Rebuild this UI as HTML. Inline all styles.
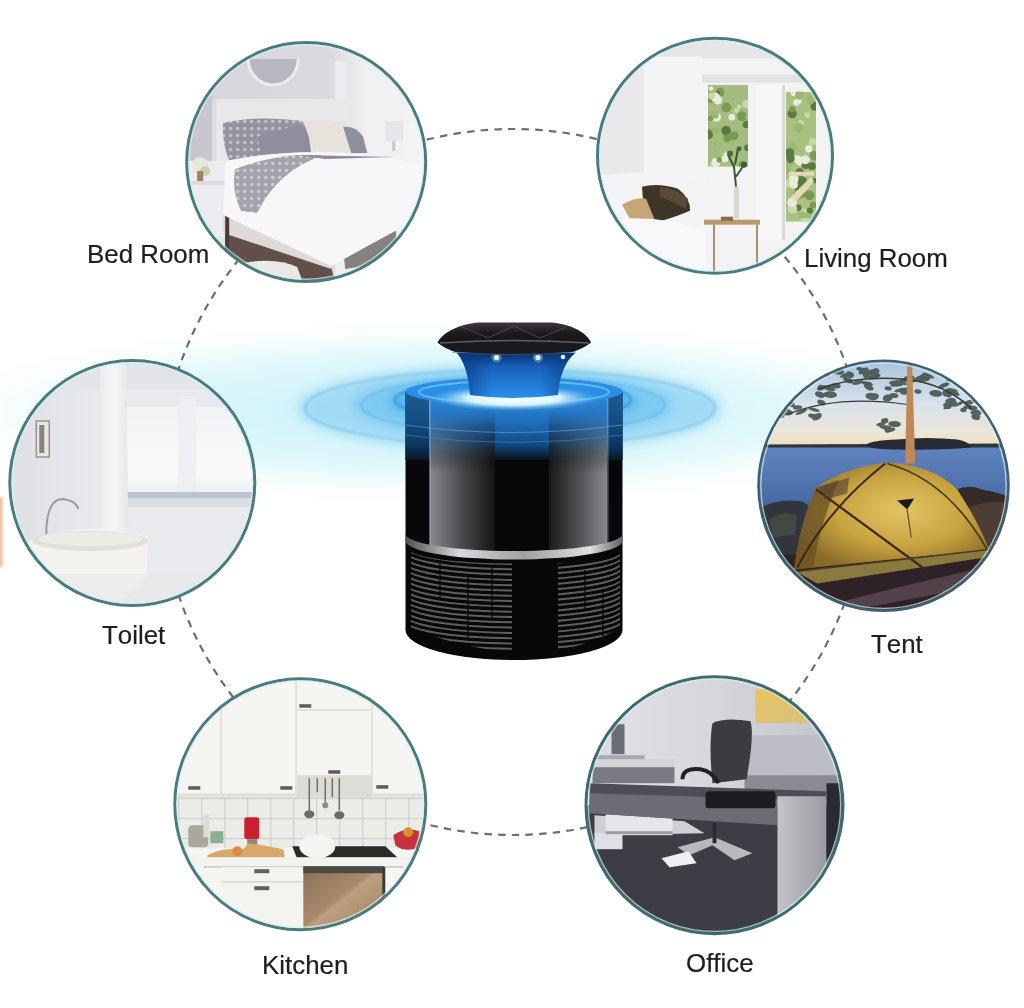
<!DOCTYPE html>
<html><head><meta charset="utf-8">
<style>
html,body{margin:0;padding:0;background:#fff;}
body{width:1024px;height:1008px;position:relative;overflow:hidden;font-family:"Liberation Sans",sans-serif;}
svg{position:absolute;left:0;top:0;}
.lbl{position:absolute;font-size:25px;color:#1e1e1e;white-space:nowrap;line-height:1;font-kerning:none;-webkit-text-stroke:0.2px #1e1e1e;transform:scaleX(1.035);transform-origin:0 0;}
</style></head><body>
<svg width="1024" height="1008" viewBox="0 0 1024 1008">
<defs>
  <radialGradient id="haze" cx="0.5" cy="0.5" r="0.5">
    <stop offset="0" stop-color="#c2f0f8"/>
    <stop offset="0.6" stop-color="#e2f8fb"/>
    <stop offset="1" stop-color="#ffffff" stop-opacity="0"/>
  </radialGradient>
  <radialGradient id="ring" cx="0.5" cy="0.5" r="0.5">
    <stop offset="0" stop-color="#5fbef0"/>
    <stop offset="0.7" stop-color="#8fd6f6"/>
    <stop offset="1" stop-color="#c8f0fa" stop-opacity="0"/>
  </radialGradient>
  <filter id="blur2"><feGaussianBlur stdDeviation="2"/></filter>
  <filter id="blur6"><feGaussianBlur stdDeviation="6"/></filter>
  <filter id="soft" x="-5%" y="-5%" width="110%" height="110%"><feGaussianBlur stdDeviation="0.7"/></filter>
  <filter id="blur1"><feGaussianBlur stdDeviation="0.8"/></filter>
  <clipPath id="cBed"><circle cx="121" cy="121" r="120"/></clipPath>
  <clipPath id="cLiv"><circle cx="119" cy="119" r="118"/></clipPath>
  <clipPath id="livWinL"><rect x="112" y="48" width="40" height="82"/></clipPath>
  <clipPath id="livWinR"><rect x="190" y="55" width="30" height="130"/></clipPath>
  <clipPath id="cToi"><circle cx="124" cy="124" r="123"/></clipPath>
  <clipPath id="cTent"><circle cx="126.3" cy="126.3" r="125.3"/></clipPath>
  <clipPath id="cKit"><circle cx="127" cy="127" r="126"/></clipPath>
  <clipPath id="cOff"><circle cx="130" cy="130" r="129"/></clipPath>
</defs>

<!-- background haze -->
<ellipse cx="450" cy="412" rx="560" ry="98" fill="url(#haze)"/>
<g filter="url(#blur6)">
<ellipse cx="510" cy="408" rx="212" ry="42" fill="#a2daf4"/>
<ellipse cx="513" cy="405" rx="160" ry="32" fill="#7ccaf2"/>
<ellipse cx="513" cy="402" rx="125" ry="24" fill="#5ab6ee"/>
</g>
<g filter="url(#blur1)" fill="none" opacity="0.75">
<ellipse cx="510" cy="408" rx="205" ry="38" stroke="#78c4ee" stroke-width="2"/>
<ellipse cx="513" cy="405" rx="152" ry="28" stroke="#62b8ec" stroke-width="2"/>
<ellipse cx="513" cy="400" rx="118" ry="21" stroke="#2a94e0" stroke-width="2.5"/>
</g>
<rect x="-2" y="497" width="5" height="70" fill="#f4c6a2" filter="url(#blur1)"/>
<!-- dashed circle -->
<circle cx="513" cy="482" r="353" fill="none" stroke="#6e6e6e" stroke-width="2.2" stroke-dasharray="7.5 6.2"/>

<!-- BED ROOM -->
<g transform="translate(185.2,41)">
 <g clip-path="url(#cBed)" filter="url(#soft)">
  <defs>
   <linearGradient id="bedWall" x1="0" y1="0" x2="1" y2="0">
    <stop offset="0" stop-color="#d6d4dc"/>
    <stop offset="0.6" stop-color="#dcdae0"/>
    <stop offset="0.75" stop-color="#f0f0f2"/>
    <stop offset="1" stop-color="#f4f4f6"/>
   </linearGradient>
   <pattern id="bedDots" width="7" height="7" patternUnits="userSpaceOnUse">
    <rect width="7" height="7" fill="#94949f"/>
    <circle cx="3.5" cy="3.5" r="1.7" fill="#c4c4ce"/>
   </pattern>
  </defs>
  <rect x="0" y="0" width="242" height="242" fill="url(#bedWall)"/>
  <rect x="150" y="20" width="12" height="100" fill="#ecebee"/>
  <path d="M63,18 A25,26 0 0 0 113,18 Z" fill="#b8b6c0"/>
  <path d="M63,18 A25,26 0 0 0 113,18" fill="none" stroke="#ecebef" stroke-width="3"/>
  <rect x="0" y="55" width="28" height="90" fill="#c8c6ce"/>
  <rect x="27" y="58" width="138" height="62" fill="#e9e7ea"/>
  <rect x="27" y="58" width="4" height="140" fill="#dedce0"/>
  <path d="M38,82 Q70,74 118,80 L122,118 L45,122 Q36,100 38,82Z" fill="url(#bedDots)"/>
  <path d="M72,96 Q98,86 122,84 L126,112 Q100,118 78,122Z" fill="#8e8e9e"/>
  <path d="M118,80 Q140,76 160,82 L166,110 Q150,114 130,114Z" fill="#e8e2dc"/>
  <path d="M158,86 Q170,84 178,96 L182,112 L166,112Z" fill="#8e909e"/>
  <rect x="200" y="80" width="18" height="20" fill="#e6e6ea"/>
  <rect x="207" y="100" width="3" height="10" fill="#c8c8cc"/>
  <rect x="0" y="120" width="42" height="80" fill="#ecebef"/>
  <rect x="0" y="140" width="42" height="4" fill="#dcdce0"/>
  <circle cx="15" cy="124" r="8" fill="#e4e8d8"/>
  <circle cx="20" cy="130" r="5" fill="#c8d0b0"/>
  <rect x="12" y="130" width="6" height="10" fill="#a08060"/>
  <rect x="0" y="196" width="42" height="46" fill="#e4e4e8"/>
  <path d="M150,200 L242,175 L242,242 L150,242Z" fill="#f0eff2"/>
  <path d="M40,190 L146,226 L150,242 L40,242Z" fill="#62504a"/>
  <path d="M38,172 L146,212 L146,228 L38,192Z" fill="#dedad8"/>
  <rect x="40" y="175" width="4" height="40" fill="#4a3c38"/>
  <path d="M58,222 Q90,216 112,226 L118,242 L58,242 Q50,232 58,222Z" fill="#ebe8e8"/>
  <path d="M156,190 L210,182 L213,220 L160,228Z" fill="#86807e"/>
  <path d="M156,190 L210,182 L211,188 L157,196Z" fill="#d8d4d0"/>
  <path d="M40,120 Q100,108 160,112 L210,118 L242,125 L242,176 L221,184 L146,225 L38,174Z" fill="#f7f7f9"/>
  <path d="M50,128 Q75,118 110,114 L138,114 Q92,130 72,172 L56,170 Q46,150 50,128Z" fill="url(#bedDots)" opacity="0.85"/>
  <path d="M112,114 L210,116 L140,118Z" fill="#8c8c9a"/>
 </g>
 <circle cx="121" cy="121" r="119.5" fill="none" stroke="#4b7b7e" stroke-width="3"/>
 <circle cx="121" cy="121" r="117.2" fill="none" stroke="#d4f2f2" stroke-width="1.4" opacity="0.7"/>
</g>

<!-- LIVING ROOM -->
<g transform="translate(596,36.7)">
 <g clip-path="url(#cLiv)" filter="url(#soft)">
  <rect x="0" y="0" width="238" height="238" fill="#f3f3f4"/>
  <rect x="0" y="0" width="238" height="22" fill="#e6e6e8"/>
  <rect x="0" y="0" width="48" height="238" fill="#e9e9eb"/>
  <rect x="48" y="20" width="58" height="120" fill="#f4f4f5"/>
  <rect x="106" y="38" width="132" height="8" fill="#e2e2e4"/>
  <g clip-path="url(#livWinL)">
   <rect x="112" y="48" width="40" height="82" fill="#a4bc80"/><circle cx="130.1" cy="93.9" r="4.8" fill="#5a7a40"/><circle cx="130.1" cy="118.1" r="2.6" fill="#e8ecd8"/><circle cx="131.0" cy="98.3" r="2.6" fill="#5a7a40"/><circle cx="124.1" cy="55.4" r="4.4" fill="#7a9a50"/><circle cx="135.8" cy="80.5" r="3.4" fill="#e8ecd8"/><circle cx="138.0" cy="99.1" r="4.5" fill="#7a9a50"/><circle cx="114.4" cy="63.6" r="2.7" fill="#7a9a50"/><circle cx="143.1" cy="74.8" r="3.8" fill="#9ab870"/><circle cx="132.8" cy="100.5" r="3.5" fill="#7a9a50"/><circle cx="130.3" cy="70.8" r="5.0" fill="#7a9a50"/><circle cx="140.3" cy="73.9" r="2.7" fill="#c8d8a8"/><circle cx="113.2" cy="94.2" r="2.3" fill="#7a9a50"/><circle cx="145.9" cy="79.7" r="4.9" fill="#7a9a50"/><circle cx="120.5" cy="124.0" r="2.2" fill="#5a7a40"/><circle cx="151.2" cy="80.6" r="2.2" fill="#9ab870"/><circle cx="143.1" cy="70.1" r="2.3" fill="#c8d8a8"/><circle cx="112.6" cy="81.6" r="4.8" fill="#9ab870"/><circle cx="121.9" cy="56.3" r="2.2" fill="#5a7a40"/><circle cx="119.1" cy="93.9" r="3.3" fill="#9ab870"/><circle cx="151.4" cy="111.1" r="3.3" fill="#5a7a40"/><circle cx="116.7" cy="82.5" r="2.6" fill="#c8d8a8"/><circle cx="146.6" cy="127.9" r="3.8" fill="#7a9a50"/><circle cx="120.4" cy="80.3" r="4.6" fill="#e8ecd8"/><circle cx="116.0" cy="129.1" r="2.6" fill="#c8d8a8"/><circle cx="112.4" cy="98.0" r="4.5" fill="#5a7a40"/><circle cx="114.9" cy="55.4" r="3.7" fill="#9ab870"/><circle cx="112.6" cy="78.2" r="3.9" fill="#9ab870"/><circle cx="150.4" cy="87.7" r="3.7" fill="#5a7a40"/><circle cx="119.3" cy="60.6" r="4.7" fill="#e8ecd8"/><circle cx="122.0" cy="63.6" r="4.2" fill="#e8ecd8"/><circle cx="119.9" cy="125.9" r="4.6" fill="#e8ecd8"/><circle cx="115.1" cy="51.9" r="2.3" fill="#e8ecd8"/><circle cx="150.5" cy="67.5" r="4.1" fill="#c8d8a8"/><circle cx="128.8" cy="122.2" r="3.5" fill="#e8ecd8"/><circle cx="119.0" cy="107.1" r="2.2" fill="#9ab870"/><circle cx="131.2" cy="101.6" r="3.8" fill="#7a9a50"/><circle cx="123.2" cy="123.2" r="2.6" fill="#7a9a50"/><circle cx="114.8" cy="81.7" r="2.7" fill="#7a9a50"/><circle cx="119.1" cy="78.2" r="3.7" fill="#9ab870"/><circle cx="115.7" cy="59.3" r="3.4" fill="#c8d8a8"/>
  </g>
  <g clip-path="url(#livWinR)">
   <rect x="190" y="55" width="30" height="130" fill="#a8c080"/><circle cx="209.7" cy="144.9" r="3.8" fill="#9ab870"/><circle cx="207.7" cy="175.1" r="3.4" fill="#c8d8a8"/><circle cx="211.0" cy="180.2" r="2.1" fill="#7a9a50"/><circle cx="204.5" cy="150.0" r="3.0" fill="#7a9a50"/><circle cx="192.3" cy="126.0" r="4.2" fill="#9ab870"/><circle cx="213.8" cy="174.0" r="3.1" fill="#5a7a40"/><circle cx="217.0" cy="168.2" r="3.3" fill="#7a9a50"/><circle cx="215.9" cy="129.5" r="3.9" fill="#5a7a40"/><circle cx="201.4" cy="56.6" r="2.2" fill="#7a9a50"/><circle cx="209.2" cy="184.1" r="4.6" fill="#c8d8a8"/><circle cx="201.7" cy="150.6" r="3.7" fill="#5a7a40"/><circle cx="203.9" cy="125.4" r="3.6" fill="#e8ecd8"/><circle cx="190.9" cy="133.2" r="3.4" fill="#9ab870"/><circle cx="218.7" cy="69.7" r="4.3" fill="#5a7a40"/><circle cx="197.7" cy="56.5" r="2.9" fill="#e8ecd8"/><circle cx="196.1" cy="77.0" r="4.7" fill="#5a7a40"/><circle cx="204.9" cy="86.4" r="3.2" fill="#c8d8a8"/><circle cx="196.0" cy="111.0" r="4.4" fill="#9ab870"/><circle cx="216.4" cy="105.0" r="3.7" fill="#c8d8a8"/><circle cx="196.3" cy="72.5" r="3.1" fill="#7a9a50"/><circle cx="211.3" cy="178.5" r="2.8" fill="#9ab870"/><circle cx="193.4" cy="116.3" r="4.8" fill="#5a7a40"/><circle cx="201.5" cy="122.6" r="4.0" fill="#e8ecd8"/><circle cx="203.6" cy="64.7" r="2.1" fill="#e8ecd8"/><circle cx="191.2" cy="147.1" r="3.7" fill="#c8d8a8"/><circle cx="209.5" cy="128.3" r="3.9" fill="#5a7a40"/><circle cx="203.6" cy="58.2" r="4.5" fill="#9ab870"/><circle cx="213.4" cy="158.6" r="5.0" fill="#7a9a50"/><circle cx="203.4" cy="136.9" r="4.0" fill="#c8d8a8"/><circle cx="218.8" cy="144.0" r="2.6" fill="#5a7a40"/><circle cx="197.7" cy="147.8" r="4.3" fill="#e8ecd8"/><circle cx="211.4" cy="78.3" r="2.8" fill="#c8d8a8"/><circle cx="206.2" cy="178.1" r="3.5" fill="#9ab870"/><circle cx="201.8" cy="158.0" r="4.7" fill="#7a9a50"/><circle cx="202.3" cy="171.0" r="3.2" fill="#5a7a40"/><circle cx="203.6" cy="136.3" r="4.7" fill="#5a7a40"/><circle cx="206.5" cy="139.8" r="3.5" fill="#c8d8a8"/><circle cx="203.9" cy="139.7" r="2.6" fill="#7a9a50"/><circle cx="196.4" cy="172.0" r="4.9" fill="#c8d8a8"/><circle cx="206.1" cy="157.8" r="3.0" fill="#7a9a50"/><circle cx="200.5" cy="65.8" r="3.3" fill="#e8ecd8"/><circle cx="202.6" cy="90.8" r="4.8" fill="#9ab870"/><circle cx="214.3" cy="63.3" r="4.4" fill="#9ab870"/><circle cx="206.0" cy="144.3" r="4.7" fill="#5a7a40"/><circle cx="194.5" cy="122.1" r="4.2" fill="#5a7a40"/><circle cx="218.4" cy="119.0" r="4.8" fill="#7a9a50"/><circle cx="212.7" cy="112.1" r="3.7" fill="#e8ecd8"/><circle cx="209.2" cy="123.0" r="4.5" fill="#e8ecd8"/><circle cx="197.7" cy="142.3" r="4.9" fill="#e8ecd8"/><circle cx="196.2" cy="165.6" r="4.9" fill="#e8ecd8"/>
  </g>
  <rect x="160" y="48" width="28" height="155" fill="#f6f6f6"/>
  <rect x="186" y="48" width="3" height="155" fill="#d8d8d8"/>
  <rect x="193" y="135" width="25" height="4" fill="#e4d8b8"/>
  <path d="M195,160 L215,140 L218,145 L200,165Z" fill="#e4d8b8"/>
  <rect x="0" y="138" width="110" height="100" fill="#f5f5f7"/>
  <path d="M0,140 Q40,132 90,138 L110,150 L110,238 L0,238Z" fill="#f4f4f6"/>
  <path d="M46,150 Q62,146 82,152 Q95,162 94,174 Q75,182 58,186 Q46,170 46,150Z" fill="#3e3428"/>
  <path d="M64,150 Q80,152 92,162 L90,172 Q78,165 64,160Z" fill="#5a4a38"/>
  <path d="M26,168 Q40,160 50,162 L60,186 Q50,190 36,186Z" fill="#c6a676"/>
  <path d="M0,185 Q60,175 110,195 L110,238 L0,238Z" fill="#f8f8fa"/>
  <rect x="108" y="183" width="56" height="5" fill="#b89a70"/>
  <rect x="117" y="188" width="2" height="50" fill="#a89078"/>
  <rect x="160" y="188" width="2" height="50" fill="#a89078"/>
  <rect x="125" y="180" width="12" height="4" fill="#8a6a48"/>
  <rect x="138" y="150" width="5" height="32" fill="#d4dad0"/>
  <path d="M140,150 L138,130 L132,118 M140,140 L148,128 M139,128 L142,112" stroke="#3a5a30" stroke-width="2" fill="none"/>
  <circle cx="134" cy="117" r="3" fill="#4a6a38"/><circle cx="148" cy="128" r="3" fill="#3a5a30"/><circle cx="143" cy="112" r="2.5" fill="#4a6a38"/>
 </g>
 <circle cx="119" cy="119" r="117.5" fill="none" stroke="#4b7b7e" stroke-width="3"/>
 <circle cx="119" cy="119" r="115.2" fill="none" stroke="#d4f2f2" stroke-width="1.4" opacity="0.7"/>
</g>

<!-- TOILET -->
<g transform="translate(8.3,359)">
 <g clip-path="url(#cToi)" filter="url(#soft)">
  <defs>
   <linearGradient id="toiWall" x1="0" y1="0" x2="1" y2="0">
    <stop offset="0" stop-color="#dfe0e6"/>
    <stop offset="0.4" stop-color="#e9eaee"/>
    <stop offset="1" stop-color="#eef0f2"/>
   </linearGradient>
   <linearGradient id="toiWin" x1="0" y1="0" x2="0" y2="1">
    <stop offset="0" stop-color="#f0f2f4"/>
    <stop offset="0.7" stop-color="#fafafa"/>
    <stop offset="1" stop-color="#e8eef2"/>
   </linearGradient>
   <linearGradient id="toiCur" x1="0" y1="0" x2="1" y2="0">
    <stop offset="0" stop-color="#ececf0"/>
    <stop offset="0.5" stop-color="#f6f6f7"/>
    <stop offset="1" stop-color="#e6e6ea"/>
   </linearGradient>
  </defs>
  <rect x="0" y="0" width="249" height="249" fill="url(#toiWall)"/>
  <rect x="0" y="0" width="249" height="30" fill="#e2e4e8"/>
  <rect x="118" y="30" width="131" height="18" fill="#e8eaee"/>
  <rect x="118" y="48" width="52" height="90" fill="url(#toiWin)"/>
  <rect x="170" y="40" width="18" height="170" fill="#eeeff2"/>
  <rect x="188" y="48" width="61" height="90" fill="url(#toiWin)"/>
  <rect x="118" y="133" width="131" height="6" fill="#b8c4d0"/>
  <rect x="118" y="139" width="131" height="9" fill="#d8dee4"/>
  <rect x="118" y="148" width="131" height="101" fill="#e9eaed"/>
  <path d="M92,0 L118,0 L120,170 Q105,175 92,170Z" fill="url(#toiCur)"/>
  <rect x="28" y="62" width="13" height="36" fill="#e8e6e2" stroke="#9a948e" stroke-width="1.5"/>
  <rect x="31" y="66" width="5" height="28" fill="#8a847e"/>
  <path d="M38,175 Q38,140 55,140 Q68,142 70,150" stroke="#9a9aa0" stroke-width="2" fill="none"/>
  <path d="M20,182 Q80,160 140,178 L138,218 Q120,249 60,249 L20,249Z" fill="#f3f2ee"/>
  <ellipse cx="82" cy="182" rx="58" ry="10" fill="#e2e0da"/>
  <ellipse cx="82" cy="180" rx="52" ry="7" fill="#ecebe6"/>
  <rect x="0" y="215" width="249" height="34" fill="#e8e8ea" opacity="0.6"/>
 </g>
 <circle cx="124" cy="124" r="122.5" fill="none" stroke="#4b7b7e" stroke-width="3"/>
 <circle cx="124" cy="124" r="120.2" fill="none" stroke="#d4f2f2" stroke-width="1.4" opacity="0.7"/>
</g>

<!-- TENT -->
<g transform="translate(757.2,359.5)">
 <g clip-path="url(#cTent)" filter="url(#soft)">
  <defs>
   <linearGradient id="sky" x1="0" y1="0" x2="0" y2="1">
    <stop offset="0" stop-color="#a6c2de"/>
    <stop offset="0.5" stop-color="#d8e2ec"/>
    <stop offset="0.82" stop-color="#ebe6da"/>
    <stop offset="1" stop-color="#f2dcb4"/>
   </linearGradient>
   <linearGradient id="water" x1="0" y1="0" x2="0" y2="1">
    <stop offset="0" stop-color="#6084c0"/>
    <stop offset="1" stop-color="#42629c"/>
   </linearGradient>
   <radialGradient id="tentG" cx="0.55" cy="0.45" r="0.6">
    <stop offset="0" stop-color="#e2c464"/>
    <stop offset="0.55" stop-color="#c8a440"/>
    <stop offset="1" stop-color="#8a6a28"/>
   </radialGradient>
  </defs>
  <rect x="0" y="0" width="253" height="88" fill="url(#sky)"/>
  <rect x="0" y="86" width="253" height="75" fill="url(#water)"/>
  <path d="M0,85 L253,84 L253,88 L0,88Z" fill="#2c3440"/>
  <path d="M108,86 Q112,81 140,80 Q170,77 200,80 Q212,82 214,88 Q180,91 140,90 Q115,90 108,86Z" fill="#262c34"/>
  <!-- canopy -->
  <g fill="#34443c" opacity="0.8"><ellipse cx="79.0" cy="26.2" rx="4.5" ry="2.7" transform="rotate(8 79.0 26.2)"/><ellipse cx="65.2" cy="11.4" rx="6.3" ry="2.0" transform="rotate(-16 65.2 11.4)"/><ellipse cx="139.7" cy="24.2" rx="6.3" ry="2.5" transform="rotate(8 139.7 24.2)"/><ellipse cx="72.0" cy="28.8" rx="6.5" ry="2.5" transform="rotate(14 72.0 28.8)"/><ellipse cx="113.7" cy="12.8" rx="6.0" ry="2.7" transform="rotate(-12 113.7 12.8)"/><ellipse cx="62.5" cy="35.2" rx="4.9" ry="2.9" transform="rotate(23 62.5 35.2)"/><ellipse cx="117.1" cy="36.8" rx="4.6" ry="3.1" transform="rotate(-3 117.1 36.8)"/><ellipse cx="134.8" cy="35.6" rx="3.4" ry="1.8" transform="rotate(-17 134.8 35.6)"/><ellipse cx="137.2" cy="23.2" rx="5.5" ry="2.1" transform="rotate(0 137.2 23.2)"/><ellipse cx="90.9" cy="20.8" rx="5.3" ry="2.7" transform="rotate(24 90.9 20.8)"/><ellipse cx="114.6" cy="37.0" rx="6.4" ry="3.5" transform="rotate(10 114.6 37.0)"/><ellipse cx="73.0" cy="35.1" rx="6.9" ry="3.3" transform="rotate(4 73.0 35.1)"/><ellipse cx="117.1" cy="16.9" rx="6.3" ry="2.6" transform="rotate(-13 117.1 16.9)"/><ellipse cx="65.1" cy="34.9" rx="7.0" ry="1.7" transform="rotate(18 65.1 34.9)"/><ellipse cx="92.8" cy="15.2" rx="4.2" ry="3.0" transform="rotate(22 92.8 15.2)"/><ellipse cx="63.5" cy="28.2" rx="3.2" ry="2.9" transform="rotate(-10 63.5 28.2)"/><ellipse cx="130.5" cy="38.5" rx="5.0" ry="3.5" transform="rotate(-11 130.5 38.5)"/><ellipse cx="66.2" cy="27.8" rx="3.1" ry="1.9" transform="rotate(-6 66.2 27.8)"/><ellipse cx="108.8" cy="15.4" rx="3.2" ry="3.2" transform="rotate(-11 108.8 15.4)"/><ellipse cx="136.7" cy="36.1" rx="4.5" ry="2.4" transform="rotate(1 136.7 36.1)"/><ellipse cx="111.5" cy="27.7" rx="5.2" ry="2.7" transform="rotate(26 111.5 27.7)"/><ellipse cx="100.6" cy="23.1" rx="5.9" ry="2.0" transform="rotate(-12 100.6 23.1)"/><ellipse cx="138.2" cy="25.6" rx="5.2" ry="1.5" transform="rotate(-5 138.2 25.6)"/><ellipse cx="106.4" cy="11.6" rx="5.5" ry="2.8" transform="rotate(-26 106.4 11.6)"/><ellipse cx="110.2" cy="24.1" rx="5.7" ry="2.2" transform="rotate(12 110.2 24.1)"/><ellipse cx="119.0" cy="11.6" rx="3.2" ry="2.9" transform="rotate(28 119.0 11.6)"/><ellipse cx="147.6" cy="20.8" rx="5.4" ry="2.1" transform="rotate(-8 147.6 20.8)"/><ellipse cx="151.9" cy="18.3" rx="5.4" ry="2.1" transform="rotate(-7 151.9 18.3)"/><ellipse cx="184.1" cy="8.8" rx="5.3" ry="3.0" transform="rotate(-11 184.1 8.8)"/><ellipse cx="145.6" cy="30.5" rx="4.0" ry="1.9" transform="rotate(-4 145.6 30.5)"/><ellipse cx="178.9" cy="10.9" rx="4.3" ry="2.2" transform="rotate(20 178.9 10.9)"/><ellipse cx="160.7" cy="32.0" rx="3.7" ry="2.2" transform="rotate(9 160.7 32.0)"/><ellipse cx="191.9" cy="20.6" rx="3.9" ry="1.7" transform="rotate(2 191.9 20.6)"/><ellipse cx="143.4" cy="30.6" rx="6.4" ry="1.9" transform="rotate(-13 143.4 30.6)"/><ellipse cx="186.5" cy="26.0" rx="6.2" ry="2.2" transform="rotate(-22 186.5 26.0)"/><ellipse cx="150.4" cy="30.2" rx="4.1" ry="2.2" transform="rotate(-5 150.4 30.2)"/><ellipse cx="159.4" cy="19.5" rx="6.7" ry="1.8" transform="rotate(-30 159.4 19.5)"/><ellipse cx="196.0" cy="32.6" rx="6.9" ry="2.4" transform="rotate(27 196.0 32.6)"/><ellipse cx="194.9" cy="14.2" rx="6.0" ry="3.2" transform="rotate(10 194.9 14.2)"/><ellipse cx="166.3" cy="16.1" rx="4.4" ry="2.0" transform="rotate(-26 166.3 16.1)"/><ellipse cx="171.2" cy="16.0" rx="6.2" ry="1.6" transform="rotate(24 171.2 16.0)"/><ellipse cx="178.6" cy="33.9" rx="6.6" ry="3.3" transform="rotate(5 178.6 33.9)"/><ellipse cx="130.9" cy="28.9" rx="3.7" ry="2.1" transform="rotate(10 130.9 28.9)"/><ellipse cx="166.7" cy="19.6" rx="6.8" ry="2.7" transform="rotate(-10 166.7 19.6)"/><ellipse cx="147.7" cy="32.1" rx="4.9" ry="3.1" transform="rotate(-9 147.7 32.1)"/><ellipse cx="143.8" cy="23.0" rx="6.3" ry="1.8" transform="rotate(18 143.8 23.0)"/><ellipse cx="194.5" cy="30.6" rx="6.3" ry="1.5" transform="rotate(8 194.5 30.6)"/><ellipse cx="190.4" cy="9.4" rx="4.1" ry="2.0" transform="rotate(2 190.4 9.4)"/><ellipse cx="202.2" cy="44.2" rx="6.1" ry="1.5" transform="rotate(-27 202.2 44.2)"/><ellipse cx="191.6" cy="34.5" rx="3.3" ry="3.4" transform="rotate(21 191.6 34.5)"/><ellipse cx="190.1" cy="45.1" rx="4.3" ry="2.1" transform="rotate(-9 190.1 45.1)"/><ellipse cx="210.3" cy="47.4" rx="4.4" ry="1.9" transform="rotate(-10 210.3 47.4)"/><ellipse cx="191.5" cy="46.6" rx="5.9" ry="2.3" transform="rotate(-25 191.5 46.6)"/><ellipse cx="193.4" cy="41.5" rx="5.4" ry="3.1" transform="rotate(-7 193.4 41.5)"/><ellipse cx="215.8" cy="48.4" rx="4.7" ry="2.2" transform="rotate(-0 215.8 48.4)"/><ellipse cx="212.3" cy="42.8" rx="5.8" ry="2.4" transform="rotate(-15 212.3 42.8)"/><ellipse cx="206.3" cy="50.5" rx="3.3" ry="2.3" transform="rotate(-4 206.3 50.5)"/><ellipse cx="218.7" cy="57.2" rx="4.5" ry="3.3" transform="rotate(17 218.7 57.2)"/><ellipse cx="196.4" cy="44.0" rx="3.5" ry="3.1" transform="rotate(10 196.4 44.0)"/><ellipse cx="218.9" cy="53.2" rx="5.7" ry="3.0" transform="rotate(4 218.9 53.2)"/><ellipse cx="190.7" cy="47.5" rx="3.0" ry="1.8" transform="rotate(16 190.7 47.5)"/><ellipse cx="188.6" cy="33.6" rx="3.4" ry="3.3" transform="rotate(-19 188.6 33.6)"/><ellipse cx="24.0" cy="55.5" rx="3.5" ry="3.2" transform="rotate(10 24.0 55.5)"/><ellipse cx="59.8" cy="57.2" rx="5.3" ry="3.1" transform="rotate(-28 59.8 57.2)"/><ellipse cx="56.8" cy="50.2" rx="5.9" ry="1.7" transform="rotate(15 56.8 50.2)"/><ellipse cx="64.1" cy="43.0" rx="4.3" ry="2.6" transform="rotate(20 64.1 43.0)"/><ellipse cx="33.7" cy="44.9" rx="4.0" ry="2.7" transform="rotate(15 33.7 44.9)"/><ellipse cx="40.3" cy="47.9" rx="4.6" ry="2.2" transform="rotate(-5 40.3 47.9)"/><ellipse cx="26.7" cy="50.0" rx="6.9" ry="2.3" transform="rotate(15 26.7 50.0)"/><ellipse cx="30.1" cy="53.1" rx="6.0" ry="2.8" transform="rotate(1 30.1 53.1)"/><ellipse cx="44.3" cy="52.3" rx="6.6" ry="1.8" transform="rotate(-24 44.3 52.3)"/><ellipse cx="55.9" cy="56.7" rx="5.1" ry="2.4" transform="rotate(13 55.9 56.7)"/><ellipse cx="127.5" cy="61.3" rx="3.8" ry="2.7" transform="rotate(-11 127.5 61.3)"/><ellipse cx="128.6" cy="68.1" rx="6.8" ry="2.1" transform="rotate(12 128.6 68.1)"/><ellipse cx="132.9" cy="70.7" rx="5.3" ry="2.0" transform="rotate(-17 132.9 70.7)"/><ellipse cx="123.6" cy="64.7" rx="4.5" ry="1.8" transform="rotate(-8 123.6 64.7)"/><ellipse cx="130.7" cy="69.4" rx="3.6" ry="3.5" transform="rotate(-1 130.7 69.4)"/><ellipse cx="137.4" cy="64.5" rx="6.3" ry="3.1" transform="rotate(3 137.4 64.5)"/><ellipse cx="79.1" cy="12.6" rx="6.4" ry="2.3" transform="rotate(14 79.1 12.6)"/><ellipse cx="103.0" cy="9.6" rx="3.9" ry="2.0" transform="rotate(13 103.0 9.6)"/><ellipse cx="88.8" cy="15.5" rx="6.4" ry="2.0" transform="rotate(-19 88.8 15.5)"/><ellipse cx="67.9" cy="6.2" rx="5.8" ry="3.2" transform="rotate(24 67.9 6.2)"/><ellipse cx="67.8" cy="14.4" rx="4.3" ry="2.3" transform="rotate(14 67.8 14.4)"/><ellipse cx="59.3" cy="5.1" rx="6.3" ry="2.1" transform="rotate(-9 59.3 5.1)"/><ellipse cx="84.0" cy="12.1" rx="3.0" ry="2.2" transform="rotate(-4 84.0 12.1)"/><ellipse cx="79.3" cy="6.5" rx="5.3" ry="3.4" transform="rotate(-7 79.3 6.5)"/></g>
  <path d="M60,30 Q100,15 150,20 Q190,25 215,50" stroke="#3a3a30" stroke-width="1.5" fill="none"/>
  <path d="M30,55 Q80,35 150,45" stroke="#3a3a30" stroke-width="1.2" fill="none"/>
  <path d="M150,5 L155,5 L158,104 L148,104Z" fill="#c08858"/>
  <!-- rocks -->
  <path d="M0,150 Q20,138 45,142 Q60,150 62,165 L40,205 L0,205Z" fill="#30343a"/>
  <path d="M12,160 Q25,150 40,156 L38,175 L15,178Z" fill="#4a5448" opacity="0.7"/>
  <path d="M188,138 Q205,122 225,130 Q245,134 253,138 L253,205 L200,205Z" fill="#342a2a"/>
  <path d="M205,150 Q230,140 253,143 L253,185 L215,190Z" fill="#5a4438" opacity="0.7"/>
  <rect x="0" y="195" width="253" height="58" fill="#2e2428"/>
  <path d="M70,246 Q130,230 200,214 L240,205 L253,208 L253,222 Q180,234 120,246 L80,253Z" fill="#8a7480" opacity="0.4"/>
  <!-- tent -->
  <path d="M37,210 Q42,165 59,128 Q90,107 130,103 Q175,105 200,130 Q220,160 232,190 Z" fill="url(#tentG)"/>
  <path d="M37,210 Q42,165 59,128 L82,120 Q64,160 56,208Z" fill="#6a5228" opacity="0.75"/>
  <path d="M39,212 L232,190 L234,197 Q150,210 60,224Z" fill="#8a7a40"/>
  <path d="M59,130 L168,210" stroke="#3a2a18" stroke-width="2.2" fill="none"/>
  <path d="M40,208 Q70,150 128,104" stroke="#3a2a18" stroke-width="2" fill="none"/>
  <path d="M130,104 Q190,120 230,190" stroke="#4a3a20" stroke-width="1.8" fill="none"/>
  <path d="M39,212 L232,190" stroke="#4a3a20" stroke-width="1.5" fill="none"/>
  <path d="M140,141 L157,139 L150,150Z" fill="#1e1a18"/>
  <path d="M150,150 L154,178" stroke="#5a4a30" stroke-width="1.2"/>
  <path d="M62,128 L92,118 L90,134 L68,140Z" fill="#504030" opacity="0.6"/>
 </g>
 <circle cx="126.3" cy="126.3" r="125" fill="none" stroke="#3e6070" stroke-width="2.5"/>
 <circle cx="126.3" cy="126.3" r="122.7" fill="none" stroke="#d4f2f2" stroke-width="1.4" opacity="0.7"/>
</g>

<!-- KITCHEN -->
<g transform="translate(173.3,677.2)">
 <g clip-path="url(#cKit)" filter="url(#soft)">
  <defs>
   <linearGradient id="kitWood" x1="0" y1="0" x2="1" y2="1">
    <stop offset="0" stop-color="#8a7058"/>
    <stop offset="0.45" stop-color="#a88a6a"/>
    <stop offset="0.5" stop-color="#bca080"/>
    <stop offset="1" stop-color="#9a7c5a"/>
   </linearGradient>
  </defs>
  <rect x="0" y="0" width="255" height="255" fill="#f5f5f1"/>
  <g fill="#dcdcd4">
   <rect x="47" y="0" width="1.5" height="119"/>
   <rect x="122" y="0" width="1.5" height="119"/>
   <rect x="198" y="0" width="1.5" height="119"/>
   <rect x="124" y="32" width="74" height="1.5"/>
   <rect x="124" y="98" width="74" height="1.5"/>
  </g>
  <rect x="0" y="116" width="255" height="5" fill="#e2e2dc"/>
  <rect x="0" y="121" width="255" height="50" fill="#ebebe7"/>
  <g fill="#c9c9c2"><rect x="5" y="121" width="0.9" height="50" /><rect x="28" y="121" width="0.9" height="50" /><rect x="51" y="121" width="0.9" height="50" /><rect x="74" y="121" width="0.9" height="50" /><rect x="97" y="121" width="0.9" height="50" /><rect x="120" y="121" width="0.9" height="50" /><rect x="143" y="121" width="0.9" height="50" /><rect x="166" y="121" width="0.9" height="50" /><rect x="189" y="121" width="0.9" height="50" /><rect x="212" y="121" width="0.9" height="50" /><rect x="235" y="121" width="0.9" height="50" /><rect x="258" y="121" width="0.9" height="50" /><rect x="0" y="121" width="254" height="0.9"/><rect x="0" y="141" width="254" height="0.9"/><rect x="0" y="161" width="254" height="0.9"/></g>
  <rect x="124" y="99" width="74" height="22" fill="#ddddd8"/>
  <g fill="#5c5c5c">
   <rect x="15" y="109" width="12" height="3.5"/>
   <rect x="107" y="109" width="12" height="3.5"/>
   <rect x="126" y="27" width="12" height="3.5"/>
   <rect x="155" y="93" width="12" height="3.5"/>
   <rect x="203" y="108" width="12" height="3.5"/>
  </g>
  <!-- utensils -->
  <g stroke="#7a6a60" stroke-width="1.5">
   <line x1="136" y1="101" x2="136" y2="133"/><line x1="144" y1="101" x2="144" y2="115"/>
   <line x1="152" y1="101" x2="152" y2="125"/><line x1="159" y1="101" x2="159" y2="120"/><line x1="166" y1="101" x2="166" y2="133"/>
  </g>
  <ellipse cx="136" cy="137" rx="5" ry="4" fill="#6a6a66"/>
  <ellipse cx="166" cy="138" rx="5" ry="4" fill="#6a6a66"/>
  <ellipse cx="152" cy="128" rx="3" ry="3" fill="#8a8a84"/>
  <!-- counter items -->
  <rect x="15" y="148" width="20" height="22" rx="4" fill="#a8a89c"/>
  <rect x="37" y="154" width="13" height="12" fill="#8ab090"/>
  <rect x="30" y="138" width="6" height="22" fill="#d8dcd8"/>
  <rect x="71" y="140" width="15" height="22" rx="3" fill="#c82232"/>
  <rect x="74" y="162" width="10" height="6" fill="#8a8a80"/>
  <path d="M34,178 Q50,170 70,172 L75,166 Q90,168 110,172 L112,182 L34,182Z" fill="#d8a868"/>
  <circle cx="64" cy="174" r="5" fill="#e08a48"/>
  <path d="M119,169 L212,169 L225,181 L124,182Z" fill="#2a2a2c"/>
  <ellipse cx="144" cy="169" rx="18" ry="12" fill="#f4f4f4"/>
  <path d="M220,158 Q232,150 246,154 L246,170 Q232,176 222,168Z" fill="#c83040"/>
  <circle cx="235" cy="155" r="5" fill="#d8902a"/>
  <rect x="0" y="180" width="255" height="10" fill="#f2f2ee"/>
  <rect x="30" y="189" width="200" height="1.5" fill="#c8c8c0"/>
  <rect x="48" y="190" width="82" height="65" fill="#f3f3ef"/>
  <rect x="48" y="204" width="82" height="1.2" fill="#d0d0c8"/>
  <rect x="81" y="192" width="15" height="4" fill="#606060"/>
  <rect x="81" y="209" width="15" height="4" fill="#606060"/>
  <rect x="130" y="190" width="81" height="65" fill="url(#kitWood)"/>
  <rect x="130" y="189" width="81" height="7" fill="#4a4844"/>
  <rect x="209" y="190" width="3" height="65" fill="#3a3a38"/>
 </g>
 <circle cx="127" cy="127" r="125.5" fill="none" stroke="#4b7b7e" stroke-width="3"/>
 <circle cx="127" cy="127" r="123.2" fill="none" stroke="#d4f2f2" stroke-width="1.4" opacity="0.7"/>
</g>

<!-- OFFICE -->
<g transform="translate(584.5,675.2)">
 <g clip-path="url(#cOff)" filter="url(#soft)">
  <defs>
   <linearGradient id="offWall" x1="0" y1="0" x2="1" y2="0">
    <stop offset="0" stop-color="#e2e2e6"/>
    <stop offset="0.5" stop-color="#d6d6dc"/>
    <stop offset="1" stop-color="#c2c2ca"/>
   </linearGradient>
   <linearGradient id="offArt" x1="0" y1="0" x2="1" y2="1">
    <stop offset="0" stop-color="#e8c460"/>
    <stop offset="1" stop-color="#d8c080"/>
   </linearGradient>
   <linearGradient id="offLeg" x1="0" y1="0" x2="1" y2="0">
    <stop offset="0" stop-color="#c4c4ca"/>
    <stop offset="1" stop-color="#9a9aa2"/>
   </linearGradient>
  </defs>
  <rect x="0" y="0" width="260" height="260" fill="url(#offWall)"/>
  <rect x="171" y="14" width="56" height="34" fill="url(#offArt)"/>
  <rect x="0" y="40" width="41" height="60" fill="#d8dce2"/>
  <rect x="27" y="49" width="13" height="30" fill="#6a6e76"/>
  <rect x="0" y="80" width="60" height="6" fill="#a8a8b0"/>
  <rect x="0" y="84" width="90" height="10" fill="#d4d4d8"/>
  <rect x="8" y="92" width="82" height="16" fill="#7a7a82"/>
  <rect x="160" y="60" width="100" height="40" fill="#bcbcc4"/>
  <rect x="160" y="100" width="100" height="16" fill="#8a8a92"/>
  <rect x="0" y="130" width="260" height="130" fill="#3e3e44"/>
  <path d="M10,140 L100,146 L120,158 L10,160Z" fill="#cfcfd4"/>
  <rect x="10" y="158" width="28" height="16" fill="#e0e0e4"/>
  <rect x="21" y="134" width="67" height="26" fill="#e6e6ea"/>
  <rect x="21" y="156" width="67" height="3" fill="#9a9aa0"/>
  <!-- chair -->
  <path d="M128,48 Q140,42 166,46 Q170,60 162,104 L128,108 Q124,70 128,48Z" fill="#3a3a42"/>
  <path d="M98,104 Q98,92 116,94 Q128,96 134,108" fill="none" stroke="#222228" stroke-width="4"/>
  <!-- desk -->
  <path d="M5,108 L242,116 L242,124 L193,124 L193,150 L5,138Z" fill="#4e4e56"/>
  <path d="M5,118 L193,124 L193,150 L5,138Z" fill="#6c6c74"/>
  <rect x="121" y="116" width="70" height="17" rx="3" fill="#1e1e22"/>
  <path d="M193,121 L242,121 L242,240 L193,240Z" fill="url(#offLeg)"/>
  <rect x="242" y="108" width="18" height="75" fill="#2a2a30"/>
  <!-- chair base -->
  <path d="M93,172 L130,162 L168,178 L150,185 L128,170 L105,180Z" fill="#b8b8be"/>
  <rect x="128" y="148" width="4" height="20" fill="#2a2a30"/>
  <path d="M77,183 L104,176 L112,188 L85,192Z" fill="#f0f0f2"/>
 </g>
 <circle cx="130" cy="130" r="128.5" fill="none" stroke="#3e6a70" stroke-width="3"/>
 <circle cx="130" cy="130" r="126.2" fill="none" stroke="#d4f2f2" stroke-width="1.4" opacity="0.7"/>
</g>

<!-- LAMP -->
<g id="lamp">
  <defs>
    <linearGradient id="bodyV" x1="0" y1="0" x2="0" y2="1" gradientUnits="userSpaceOnUse" gradientTransform="translate(0,380) scale(1,90)">
      <stop offset="0" stop-color="#3a9ae4"/>
      <stop offset="0.45" stop-color="#2070c0"/>
      <stop offset="0.72" stop-color="#124a80"/>
      <stop offset="0.9" stop-color="#080c14"/>
      <stop offset="1" stop-color="#08080a"/>
    </linearGradient>
    <linearGradient id="panelL" x1="0" y1="0" x2="1" y2="0">
      <stop offset="0" stop-color="#8a8a8e"/>
      <stop offset="0.5" stop-color="#4a4a4e"/>
      <stop offset="1" stop-color="#141416"/>
    </linearGradient>
    <linearGradient id="panelR" x1="0" y1="0" x2="1" y2="0">
      <stop offset="0" stop-color="#1a1a1c"/>
      <stop offset="0.6" stop-color="#5a5a5e"/>
      <stop offset="1" stop-color="#8a8a8e"/>
    </linearGradient>
    <linearGradient id="panelFade" x1="0" y1="0" x2="0" y2="1">
      <stop offset="0" stop-color="#fff" stop-opacity="0"/>
      <stop offset="0.45" stop-color="#fff" stop-opacity="1"/>
      <stop offset="1" stop-color="#fff" stop-opacity="1"/>
    </linearGradient>
    <mask id="pfm"><rect x="400" y="410" width="230" height="140" fill="url(#panelFade)"/></mask>
    <linearGradient id="band" x1="0" y1="0" x2="1" y2="0">
      <stop offset="0" stop-color="#505054"/>
      <stop offset="0.25" stop-color="#d8d8dc"/>
      <stop offset="0.55" stop-color="#a0a0a4"/>
      <stop offset="0.85" stop-color="#e0e0e4"/>
      <stop offset="1" stop-color="#606064"/>
    </linearGradient>
    <linearGradient id="neck" x1="0" y1="0" x2="0" y2="1">
      <stop offset="0" stop-color="#08306a"/>
      <stop offset="0.3" stop-color="#1660b8"/>
      <stop offset="1" stop-color="#2a90ea"/>
    </linearGradient>
    <linearGradient id="neckH" x1="0" y1="0" x2="1" y2="0">
      <stop offset="0" stop-color="#0a3a80" stop-opacity="0.8"/>
      <stop offset="0.3" stop-color="#0a3a80" stop-opacity="0"/>
      <stop offset="0.7" stop-color="#0a3a80" stop-opacity="0"/>
      <stop offset="1" stop-color="#0a3a80" stop-opacity="0.8"/>
    </linearGradient>
    <radialGradient id="topGlow" cx="0.5" cy="0.5" r="0.5">
      <stop offset="0" stop-color="#ffffff"/>
      <stop offset="0.55" stop-color="#d8f4ff"/>
      <stop offset="1" stop-color="#5ab4ee" stop-opacity="0"/>
    </radialGradient>
    <linearGradient id="capG" x1="0" y1="0" x2="0" y2="1">
      <stop offset="0" stop-color="#3c3840"/>
      <stop offset="0.35" stop-color="#1c181c"/>
      <stop offset="1" stop-color="#141214"/>
    </linearGradient>
    <pattern id="grille" width="6" height="5" patternUnits="userSpaceOnUse" y="552">
      <rect width="6" height="5" fill="#0a0a0b"/>
      <rect width="6" height="1.8" y="1.5" fill="#58585c"/>
    </pattern>
    <clipPath id="grilleClip"><path d="M411,552 A102.5,16 0 0 0 512,563.5 L512,652 Q460,648 411,628 Z M558,563 A60,14 0 0 0 620,550 L620,628 Q590,645 558,650 Z"/></clipPath>
    <clipPath id="bodyClip"><path d="M405.5,391.5 L405.5,630 A108.5,30 0 0 0 622.5,630 L622.5,391.5 Z"/></clipPath>
  </defs>
  <g clip-path="url(#bodyClip)">
    <rect x="400" y="370" width="230" height="300" fill="#08080a"/>
    <rect x="400" y="370" width="230" height="90" fill="url(#bodyV)"/>
    <g mask="url(#pfm)">
      <rect x="430" y="410" width="65" height="150" fill="url(#panelL)"/>
      <rect x="549" y="410" width="58" height="150" fill="url(#panelR)"/>
    </g>
    <rect x="405" y="380" width="24" height="80" fill="#06223a" opacity="0.45"/>
    <rect x="608" y="380" width="15" height="80" fill="#06223a" opacity="0.45"/>
    <rect x="429" y="380" width="1.6" height="170" fill="#9ac8f0" opacity="0.5"/>
    <rect x="607" y="380" width="1.6" height="170" fill="#9ac8f0" opacity="0.4"/>
    <!-- blue streaks -->
    <path d="M405,425 Q513,440 622,425" stroke="#5ab0f0" stroke-width="1.2" fill="none" opacity="0.6"/>
    <path d="M405,435 Q513,450 622,435" stroke="#3a90d8" stroke-width="1" fill="none" opacity="0.6"/>
    <!-- grille -->
    <g clip-path="url(#grilleClip)" fill="none" stroke="#5e5e62" stroke-width="2"><path d="M405,546.0 A108.5,18 0 0 0 622,546.0"/><path d="M405,551.3 A108.5,18 0 0 0 622,551.3"/><path d="M405,556.6 A108.5,18 0 0 0 622,556.6"/><path d="M405,561.9 A108.5,18 0 0 0 622,561.9"/><path d="M405,567.2 A108.5,18 0 0 0 622,567.2"/><path d="M405,572.5 A108.5,18 0 0 0 622,572.5"/><path d="M405,577.8 A108.5,18 0 0 0 622,577.8"/><path d="M405,583.1 A108.5,18 0 0 0 622,583.1"/><path d="M405,588.4 A108.5,18 0 0 0 622,588.4"/><path d="M405,593.7 A108.5,18 0 0 0 622,593.7"/><path d="M405,599.0 A108.5,18 0 0 0 622,599.0"/><path d="M405,604.3 A108.5,18 0 0 0 622,604.3"/><path d="M405,609.6 A108.5,18 0 0 0 622,609.6"/><path d="M405,614.9 A108.5,18 0 0 0 622,614.9"/><path d="M405,620.2 A108.5,18 0 0 0 622,620.2"/><path d="M405,625.5 A108.5,18 0 0 0 622,625.5"/><path d="M405,630.8 A108.5,18 0 0 0 622,630.8"/><path d="M405,636.1 A108.5,18 0 0 0 622,636.1"/><path d="M405,641.4 A108.5,18 0 0 0 622,641.4"/><path d="M405,646.7 A108.5,18 0 0 0 622,646.7"/></g>
    <g stroke="#0a0a0b" stroke-width="1.3">
      <line x1="440" y1="560" x2="440" y2="600"/><line x1="468" y1="575" x2="468" y2="640"/><line x1="492" y1="565" x2="492" y2="620"/>
      <line x1="585" y1="570" x2="585" y2="610"/><line x1="603" y1="590" x2="603" y2="640"/>
    </g>
  </g>
  <!-- top ellipse -->
  <ellipse cx="514" cy="391.5" rx="108.5" ry="14" fill="#2a8ee4"/>
  <ellipse cx="514" cy="392" rx="95" ry="11" fill="none" stroke="#6ec6f6" stroke-width="2" opacity="0.8"/>
  <ellipse cx="514" cy="398" rx="85" ry="13" fill="url(#topGlow)"/>
  <!-- silver band -->
  <path d="M405.5,534 A108.5,17 0 0 0 622.5,534 L622.5,541 A108.5,18.5 0 0 1 405.5,541 Z" fill="url(#band)"/>
  <!-- neck -->
  <path d="M457,353 L575,353 Q560,366 558,395 Q514,401 470,395 Q468,366 457,353 Z" fill="url(#neck)"/>
  <path d="M457,353 L575,353 Q560,366 558,395 Q514,401 470,395 Q468,366 457,353 Z" fill="url(#neckH)"/>
  <!-- LEDs -->
  <circle cx="496.5" cy="357.5" r="2.6" fill="#f0faff"/>
  <circle cx="538" cy="357.5" r="2.6" fill="#f0faff"/>
  <circle cx="563" cy="357" r="2.3" fill="#e0f4ff"/>
  <circle cx="496.5" cy="357.5" r="5" fill="#bfe8ff" opacity="0.35"/>
  <circle cx="538" cy="357.5" r="5" fill="#bfe8ff" opacity="0.35"/>
  <!-- cap -->
  <path d="M437.5,342.5 C442,334 455,325 478,322.5 L552,322.5 C575,325 587,334 591,342.5 Q582,349 572,352 Q514,356 456,352 Q446,349 437.5,342.5 Z" fill="url(#capG)"/>
  <path d="M437.5,342.5 Q514,337 591,342.5 Q582,349 572,352 Q514,356 456,352 Q446,349 437.5,342.5 Z" fill="#1a1a1e"/>
  <path d="M440,343 Q514,338 589,343" stroke="#6a6a74" stroke-width="1.3" fill="none" opacity="0.85"/>
  <path d="M462,327 L488,338 L514,326 L540,338 L566,327" stroke="#5a5560" stroke-width="1.1" fill="none" opacity="0.7"/>
  <path d="M452,352 Q514,357 576,352" stroke="#3a5a78" stroke-width="1" fill="none" opacity="0.7"/>
</g>
</svg>

<div class="lbl" style="left:87px;top:242px;">Bed Room</div>
<div class="lbl" style="left:804px;top:245.8px;">Living Room</div>
<div class="lbl" style="left:101.6px;top:622.6px;">Toilet</div>
<div class="lbl" style="left:870.8px;top:632.3px;">Tent</div>
<div class="lbl" style="left:261.8px;top:952.5px;">Kitchen</div>
<div class="lbl" style="left:685.5px;top:951px;">Office</div>
</body></html>
